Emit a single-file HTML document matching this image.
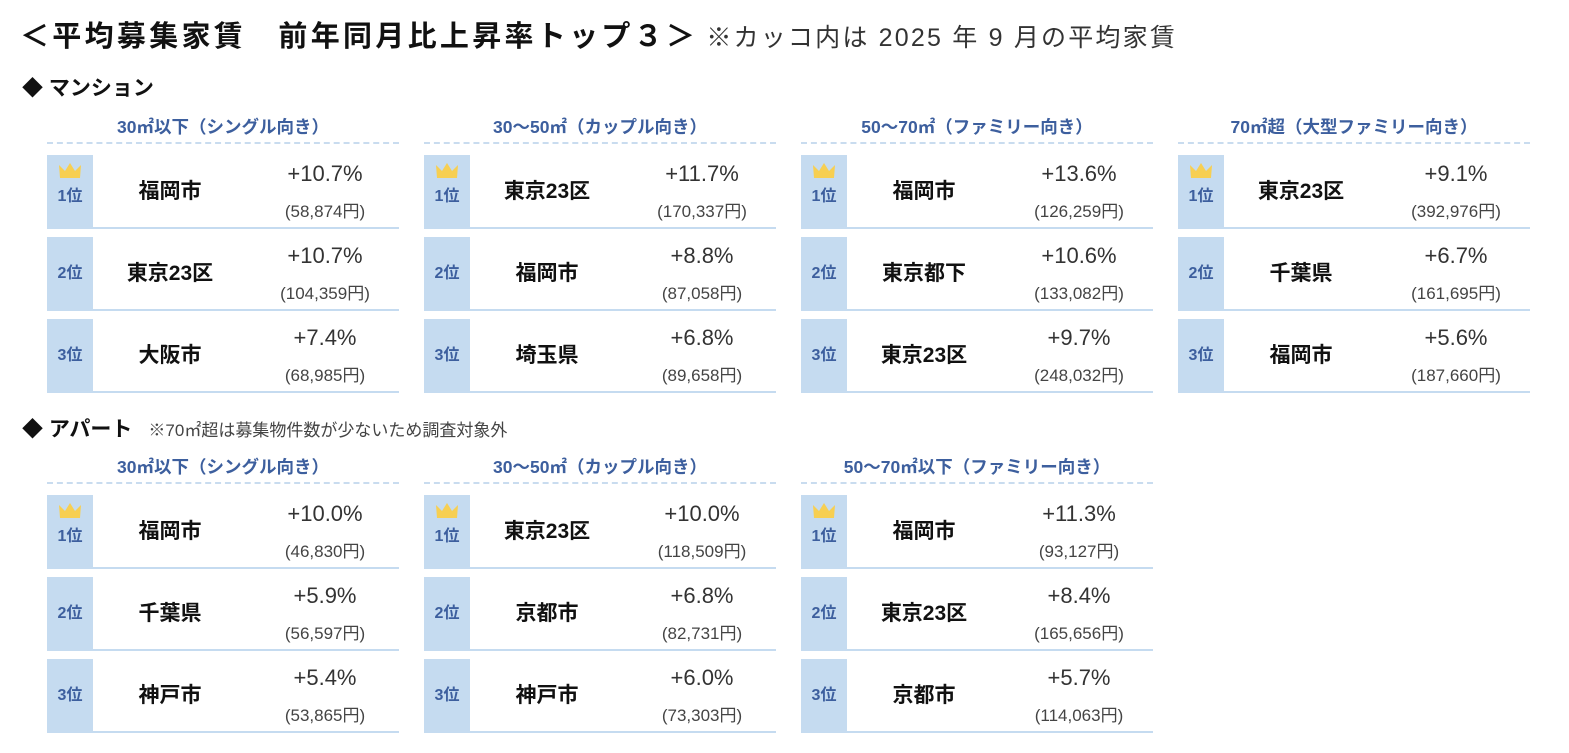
<!DOCTYPE html>
<html><head><meta charset="utf-8"><style>
*{margin:0;padding:0;box-sizing:border-box}
body{width:1569px;height:753px;background:#fff;position:relative;overflow:hidden;font-family:"Liberation Sans","Noto Sans CJK JP",sans-serif;color:#222}
.t{position:absolute;white-space:nowrap}
.blk{position:absolute;width:352px}
.hd{position:absolute;left:0;width:352px;top:-14px;text-align:center;font-size:17.5px;font-weight:bold;color:#3d5f9e;line-height:28px}
.dash{position:absolute;left:0;width:352px;top:15px;border-top:2px dashed #c9dcef}
.row{position:absolute;left:0;width:352px;height:74px}
.rk{position:absolute;left:0;top:0;width:46px;height:74px;background:#c5dbf0;color:#3d5f9e;font-weight:bold;font-size:16px;text-align:center;line-height:74px}
.rk svg{position:absolute;left:11px;top:7px}
.rk.c{line-height:84px}
.ln{position:absolute;left:46px;right:0;bottom:0;border-top:2px solid #c5dbf0}
.nm{position:absolute;left:46px;width:154px;top:0;line-height:74px;text-align:center;font-size:21px;font-weight:bold;color:#111}
.pc{position:absolute;left:200px;width:156px;top:5px;text-align:center;font-size:22px;color:#333;line-height:28px}
.yn{position:absolute;left:200px;width:156px;top:46px;text-align:center;font-size:17px;color:#444;line-height:22px}
</style></head><body>
<div class="t" style="left:20px;top:13px;font-size:29px;font-weight:bold;color:#111;letter-spacing:3.3px">＜平均募集家賃　前年同月比上昇率トップ３＞<span style="font-size:25px;font-weight:normal;color:#333;letter-spacing:2.2px;margin-left:8px">※カッコ内は 2025 年 9 月の平均家賃</span></div>
<div class="t" style="left:22px;top:72px;font-size:21px;font-weight:bold;color:#111">◆ マンション</div>
<div class="t" style="left:22px;top:413px;font-size:21px;font-weight:bold;color:#111">◆ アパート<span style="font-size:17px;font-weight:normal;color:#444;margin-left:16px">※70㎡超は募集物件数が少ないため調査対象外</span></div>

<div class="blk" style="left:47px;top:127px">
<div class="hd">30㎡以下（シングル向き）</div><div class="dash"></div>
<div class="row" style="top:28px"><div class="rk c"><svg width="24" height="16"><polygon points="1,3 7,9 12,1 17,9 23,3 22,16 2,16" fill="#f7cf52"/></svg>1位</div><div class="nm">福岡市</div><div class="pc">+10.7%</div><div class="yn">(58,874円)</div><div class="ln"></div></div>
<div class="row" style="top:110px"><div class="rk">2位</div><div class="nm">東京23区</div><div class="pc">+10.7%</div><div class="yn">(104,359円)</div><div class="ln"></div></div>
<div class="row" style="top:192px"><div class="rk">3位</div><div class="nm">大阪市</div><div class="pc">+7.4%</div><div class="yn">(68,985円)</div><div class="ln"></div></div>
</div>

<div class="blk" style="left:424px;top:127px">
<div class="hd">30～50㎡（カップル向き）</div><div class="dash"></div>
<div class="row" style="top:28px"><div class="rk c"><svg width="24" height="16"><polygon points="1,3 7,9 12,1 17,9 23,3 22,16 2,16" fill="#f7cf52"/></svg>1位</div><div class="nm">東京23区</div><div class="pc">+11.7%</div><div class="yn">(170,337円)</div><div class="ln"></div></div>
<div class="row" style="top:110px"><div class="rk">2位</div><div class="nm">福岡市</div><div class="pc">+8.8%</div><div class="yn">(87,058円)</div><div class="ln"></div></div>
<div class="row" style="top:192px"><div class="rk">3位</div><div class="nm">埼玉県</div><div class="pc">+6.8%</div><div class="yn">(89,658円)</div><div class="ln"></div></div>
</div>

<div class="blk" style="left:801px;top:127px">
<div class="hd">50～70㎡（ファミリー向き）</div><div class="dash"></div>
<div class="row" style="top:28px"><div class="rk c"><svg width="24" height="16"><polygon points="1,3 7,9 12,1 17,9 23,3 22,16 2,16" fill="#f7cf52"/></svg>1位</div><div class="nm">福岡市</div><div class="pc">+13.6%</div><div class="yn">(126,259円)</div><div class="ln"></div></div>
<div class="row" style="top:110px"><div class="rk">2位</div><div class="nm">東京都下</div><div class="pc">+10.6%</div><div class="yn">(133,082円)</div><div class="ln"></div></div>
<div class="row" style="top:192px"><div class="rk">3位</div><div class="nm">東京23区</div><div class="pc">+9.7%</div><div class="yn">(248,032円)</div><div class="ln"></div></div>
</div>

<div class="blk" style="left:1178px;top:127px">
<div class="hd">70㎡超（大型ファミリー向き）</div><div class="dash"></div>
<div class="row" style="top:28px"><div class="rk c"><svg width="24" height="16"><polygon points="1,3 7,9 12,1 17,9 23,3 22,16 2,16" fill="#f7cf52"/></svg>1位</div><div class="nm">東京23区</div><div class="pc">+9.1%</div><div class="yn">(392,976円)</div><div class="ln"></div></div>
<div class="row" style="top:110px"><div class="rk">2位</div><div class="nm">千葉県</div><div class="pc">+6.7%</div><div class="yn">(161,695円)</div><div class="ln"></div></div>
<div class="row" style="top:192px"><div class="rk">3位</div><div class="nm">福岡市</div><div class="pc">+5.6%</div><div class="yn">(187,660円)</div><div class="ln"></div></div>
</div>

<div class="blk" style="left:47px;top:467px">
<div class="hd">30㎡以下（シングル向き）</div><div class="dash"></div>
<div class="row" style="top:28px"><div class="rk c"><svg width="24" height="16"><polygon points="1,3 7,9 12,1 17,9 23,3 22,16 2,16" fill="#f7cf52"/></svg>1位</div><div class="nm">福岡市</div><div class="pc">+10.0%</div><div class="yn">(46,830円)</div><div class="ln"></div></div>
<div class="row" style="top:110px"><div class="rk">2位</div><div class="nm">千葉県</div><div class="pc">+5.9%</div><div class="yn">(56,597円)</div><div class="ln"></div></div>
<div class="row" style="top:192px"><div class="rk">3位</div><div class="nm">神戸市</div><div class="pc">+5.4%</div><div class="yn">(53,865円)</div><div class="ln"></div></div>
</div>

<div class="blk" style="left:424px;top:467px">
<div class="hd">30～50㎡（カップル向き）</div><div class="dash"></div>
<div class="row" style="top:28px"><div class="rk c"><svg width="24" height="16"><polygon points="1,3 7,9 12,1 17,9 23,3 22,16 2,16" fill="#f7cf52"/></svg>1位</div><div class="nm">東京23区</div><div class="pc">+10.0%</div><div class="yn">(118,509円)</div><div class="ln"></div></div>
<div class="row" style="top:110px"><div class="rk">2位</div><div class="nm">京都市</div><div class="pc">+6.8%</div><div class="yn">(82,731円)</div><div class="ln"></div></div>
<div class="row" style="top:192px"><div class="rk">3位</div><div class="nm">神戸市</div><div class="pc">+6.0%</div><div class="yn">(73,303円)</div><div class="ln"></div></div>
</div>

<div class="blk" style="left:801px;top:467px">
<div class="hd">50～70㎡以下（ファミリー向き）</div><div class="dash"></div>
<div class="row" style="top:28px"><div class="rk c"><svg width="24" height="16"><polygon points="1,3 7,9 12,1 17,9 23,3 22,16 2,16" fill="#f7cf52"/></svg>1位</div><div class="nm">福岡市</div><div class="pc">+11.3%</div><div class="yn">(93,127円)</div><div class="ln"></div></div>
<div class="row" style="top:110px"><div class="rk">2位</div><div class="nm">東京23区</div><div class="pc">+8.4%</div><div class="yn">(165,656円)</div><div class="ln"></div></div>
<div class="row" style="top:192px"><div class="rk">3位</div><div class="nm">京都市</div><div class="pc">+5.7%</div><div class="yn">(114,063円)</div><div class="ln"></div></div>
</div>
</body></html>
